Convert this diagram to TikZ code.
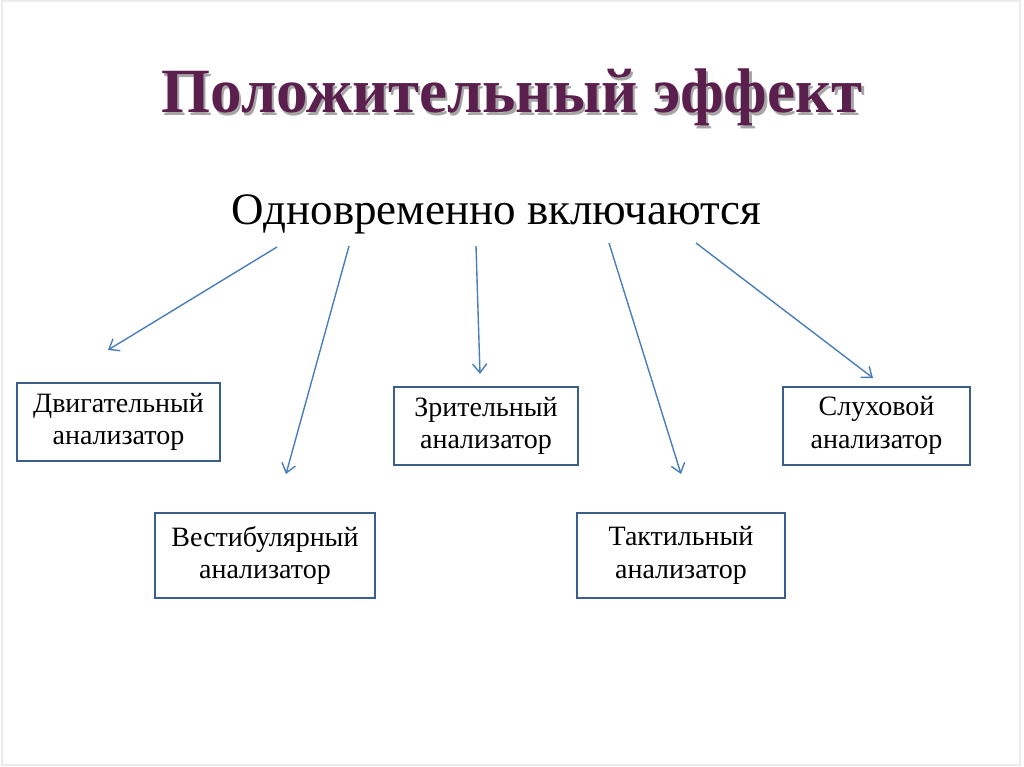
\documentclass[tikz,border=0pt]{standalone}
\usepackage{fontspec}
\setmainfont{Liberation Serif}
\usetikzlibrary{arrows.meta}
\definecolor{titlecol}{HTML}{5A1F4C}
\definecolor{boxcol}{HTML}{3A5F8C}
\definecolor{arrcol}{HTML}{4A7EBB}
\newcommand{\shadowtext}[1]{\makebox[0pt][l]{\hspace{2.5pt}\raisebox{-2.5pt}{\color{black!35}#1}}#1}
\tikzset{
  abox/.style={draw=boxcol, line width=2pt, fill=white, minimum height=78pt, align=center, font=\fontsize{28}{32.5}\selectfont, inner sep=0pt},
  arr/.style={draw=arrcol, line width=1.4pt, -{Straight Barb[length=9pt,width=14pt,line width=1.4pt]}}
}
\begin{document}
\begin{tikzpicture}[x=1pt,y=-1pt]
\useasboundingbox (0,0) rectangle (1024,767);
\fill[white] (0,0) rectangle (1024,767);
\draw[black!8, line width=1.5pt] (2,1) rectangle (1020,765);
% title
\node (title) [anchor=base, text=titlecol, inner sep=0pt, font=\bfseries\fontsize{63}{65}\selectfont] at (512,113) {\shadowtext{Положительный эффект}};
\node (sub) [anchor=base, inner sep=0pt, font=\fontsize{45}{48}\selectfont] at (496.5,225) {Одновременно включаются};
% boxes
\node (b1) [abox, minimum width=203pt] at (118.5,422) {Двигательный\\анализатор};
\node (b2) [abox, minimum width=220pt, minimum height=85pt] at (265,555.5) {Вестибулярный\\анализатор};
\node (b3) [abox, minimum width=184pt] at (486,426) {Зрительный\\анализатор};
\node (b4) [abox, minimum width=208pt, minimum height=85pt] at (681,555.5) {Тактильный\\анализатор};
\node (b5) [abox, minimum width=187pt] at (876.5,425.5) {Слуховой\\анализатор};
% arrow coordinates
\coordinate (s1) at (277,247); \coordinate (e1) at (108,350);
\coordinate (s2) at (349,246); \coordinate (e2) at (286,474);
\coordinate (s3) at (476,246); \coordinate (e3) at (480,374);
\coordinate (s4) at (609,243); \coordinate (e4) at (681,474);
\coordinate (s5) at (696,243); \coordinate (e5) at (873,378);
\draw[arr] (s1) -- (e1);
\draw[arr] (s2) -- (e2);
\draw[arr] (s3) -- (e3);
\draw[arr] (s4) -- (e4);
\draw[arr] (s5) -- (e5);
\end{tikzpicture}
\end{document}
